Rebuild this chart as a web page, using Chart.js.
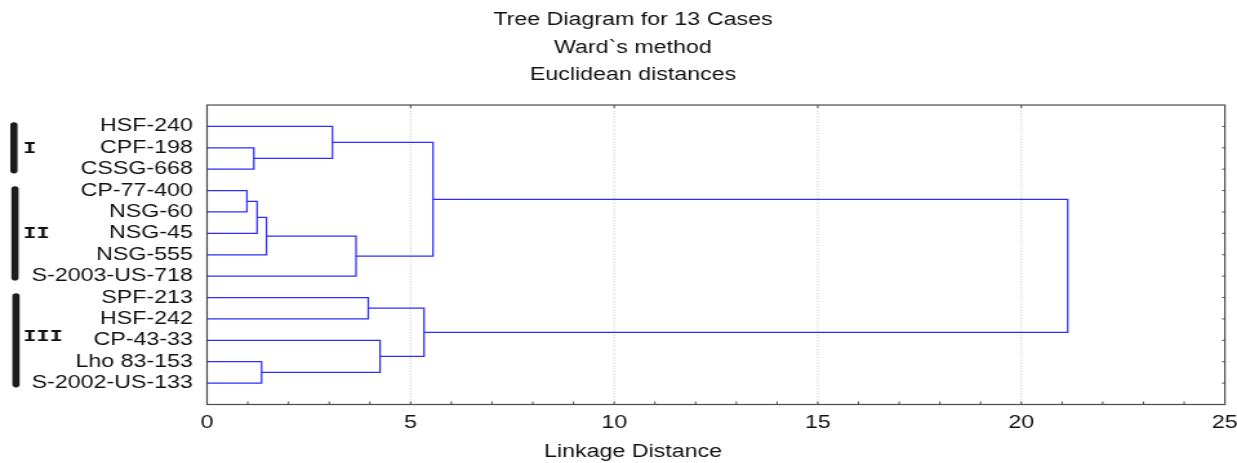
<!DOCTYPE html>
<html>
<head>
<meta charset="utf-8">
<title>Tree Diagram for 13 Cases</title>
<script src="https://cdn.jsdelivr.net/npm/chart.js@4.4.1/dist/chart.umd.min.js"></script>
<style>
  html, body { margin: 0; padding: 0; background: #fff; overflow: hidden; }
  /* the plot is laid out on a narrower canvas and widened to the window */
  #wrap { width: 959px; height: 463px; transform: scaleX(1.2899); transform-origin: 0 0; }
  canvas { display: block; }
</style>
</head>
<body>
<div id="wrap"><canvas id="tree" width="959" height="463"></canvas></div>
<script>
// Leaves in dendrogram order (top to bottom)
const caseNames = [
  'HSF-240', 'CPF-198', 'CSSG-668', 'CP-77-400', 'NSG-60', 'NSG-45', 'NSG-555',
  'S-2003-US-718', 'SPF-213', 'HSF-242', 'CP-43-33', 'Lho 83-153', 'S-2002-US-133'
];

// Agglomeration steps: leaves are 0..12, step k creates cluster 13 + k
const linkLeft     = [3,    13,   1,    11,   14,   0,    17,   8,    10,   20,   18,   23];
const linkRight    = [4,    5,    2,    12,   6,    15,   7,    9,    16,   21,   19,   22];
const linkDistance = [0.98, 1.23, 1.15, 1.34, 1.46, 3.08, 3.66, 3.96, 4.25, 5.33, 5.55, 21.14];

// Cluster groups marked on the left
const groupLabels = ['I', 'II', 'III'];
const groupFirst  = [0, 3, 8];
const groupLast   = [2, 7, 12];

const titleLines = ['Tree Diagram for 13 Cases', 'Ward`s method', 'Euclidean distances'];
const axisTitle = 'Linkage Distance';
const distanceMin = 0, distanceMax = 25, distanceStep = 5;
const gridValues = [5, 10, 15, 20];

const FONT = 'Liberation Sans, Arial, sans-serif';
const TEXT = '#111';
const LINK = 'rgb(44, 44, 255)';

// node position (row) and height (distance)
const nodeRow = caseNames.map((_, i) => i);
const nodeHeight = caseNames.map(() => 0);
const datasets = [];
linkLeft.forEach((l, k) => {
  const r = linkRight[k];
  const h = linkDistance[k];
  datasets.push({
    data: [
      { x: nodeHeight[l], y: nodeRow[l] },
      { x: h, y: nodeRow[l] },
      { x: h, y: nodeRow[r] },
      { x: nodeHeight[r], y: nodeRow[r] }
    ],
    showLine: true,
    borderColor: LINK,
    borderWidth: 1.25,
    pointRadius: 0,
    fill: false,
    tension: 0,
    clip: false
  });
  nodeRow.push((nodeRow[l] + nodeRow[r]) / 2);
  nodeHeight.push(h);
});

// frame, dotted grid, inward ticks and the group brackets
const framePlugin = {
  id: 'frame',
  beforeDatasetsDraw(chart) {
    const { ctx, chartArea: a, scales: { x } } = chart;
    ctx.save();
    ctx.strokeStyle = '#c4c4c4';
    ctx.lineWidth = 0.9;
    ctx.setLineDash([1.2, 1.6]);
    gridValues.forEach(v => {
      const px = x.getPixelForValue(v);
      ctx.beginPath(); ctx.moveTo(px, a.top); ctx.lineTo(px, a.bottom); ctx.stroke();
    });
    ctx.restore();
  },
  afterDatasetsDraw(chart) {
    const { ctx, chartArea: a, scales: { x, y } } = chart;
    ctx.save();
    ctx.strokeStyle = '#4a4a4a';
    ctx.lineWidth = 1.2;
    ctx.strokeRect(a.left, a.top, a.right - a.left, a.bottom - a.top);
    ctx.lineWidth = 1;
    ctx.beginPath();
    for (let v = distanceMin + 1; v < distanceMax; v++) {
      const px = x.getPixelForValue(v);
      ctx.moveTo(px, a.bottom); ctx.lineTo(px, a.bottom - 3);
    }
    gridValues.forEach(v => {
      const px = x.getPixelForValue(v);
      ctx.moveTo(px, a.top); ctx.lineTo(px, a.top + 3);
    });
    caseNames.forEach((_, i) => {
      const py = y.getPixelForValue(i);
      ctx.moveTo(a.right, py); ctx.lineTo(a.right - 2.2, py);
    });
    ctx.stroke();

    // group brackets and roman numerals
    ctx.strokeStyle = '#1c1c1c';
    ctx.lineWidth = 5.6;
    ctx.lineCap = 'round';
    ctx.fillStyle = '#111';
    ctx.font = 'bold 17px "Liberation Mono", "Courier New", monospace';
    ctx.textBaseline = 'alphabetic';
    ctx.textAlign = 'left';
    groupLabels.forEach((g, i) => {
      const top = y.getPixelForValue(groupFirst[i] - 0.2) + 2.8;
      const bottom = y.getPixelForValue(groupLast[i] + 0.2) - 2.8;
      const bx = 10.8 + i * 0.8;
      ctx.beginPath(); ctx.moveTo(bx, top); ctx.lineTo(bx, bottom); ctx.stroke();
      const mid = (groupFirst[i] + groupLast[i]) / 2;
      ctx.fillText(g, 18, y.getPixelForValue(mid - (i === 2 ? 0.2 : 0)) + 5);
    });
    ctx.restore();
  }
};

new Chart(document.getElementById('tree'), {
  type: 'scatter',
  data: { datasets },
  options: {
    responsive: false,
    animation: false,
    devicePixelRatio: 1,
    events: [],
    // titles are centred a little right of the canvas middle
    layout: { padding: { left: 0, right: -22.4, top: 0, bottom: 0 } },
    plugins: {
      legend: { display: false },
      tooltip: { enabled: false },
      title: {
        display: true,
        text: titleLines,
        color: TEXT,
        font: { family: FONT, size: 18, weight: 'normal', lineHeight: 1.53 },
        padding: { top: 6.5, bottom: 15.9 }
      },
      subtitle: {
        display: true,
        position: 'bottom',
        text: axisTitle,
        color: TEXT,
        font: { family: FONT, size: 18, weight: 'normal', lineHeight: 1.2 },
        padding: { top: 5.4, bottom: 0 }
      }
    },
    scales: {
      x: {
        type: 'linear',
        position: 'bottom',
        min: distanceMin,
        max: distanceMax,
        grid: { display: false, drawTicks: false },
        border: { display: false },
        ticks: { stepSize: distanceStep, padding: 8, color: TEXT, font: { family: FONT, size: 18 } },
        afterFit: s => { s.height = 31.5; s.paddingLeft = 0; s.paddingRight = 0; }
      },
      y: {
        type: 'linear',
        reverse: true,
        min: -1,
        max: caseNames.length,
        grid: { display: false, drawTicks: false },
        border: { display: false },
        ticks: {
          stepSize: 1,
          autoSkip: false,
          padding: 11,
          color: TEXT,
          font: { family: FONT, size: 18 },
          callback: v => (Number.isInteger(v) && caseNames[v] !== undefined) ? caseNames[v] : ''
        },
        afterFit: s => { s.width = 160.5; s.paddingTop = 0; s.paddingBottom = 0; }
      },
      // spacer on the right edge of the frame
      yRight: {
        type: 'linear',
        position: 'right',
        min: -1,
        max: caseNames.length,
        reverse: true,
        grid: { display: false, drawTicks: false },
        border: { display: false },
        ticks: { display: false },
        afterFit: s => { s.width = 31.8; s.paddingTop = 0; s.paddingBottom = 0; }
      }
    }
  },
  plugins: [framePlugin]
});
</script>
</body>
</html>
